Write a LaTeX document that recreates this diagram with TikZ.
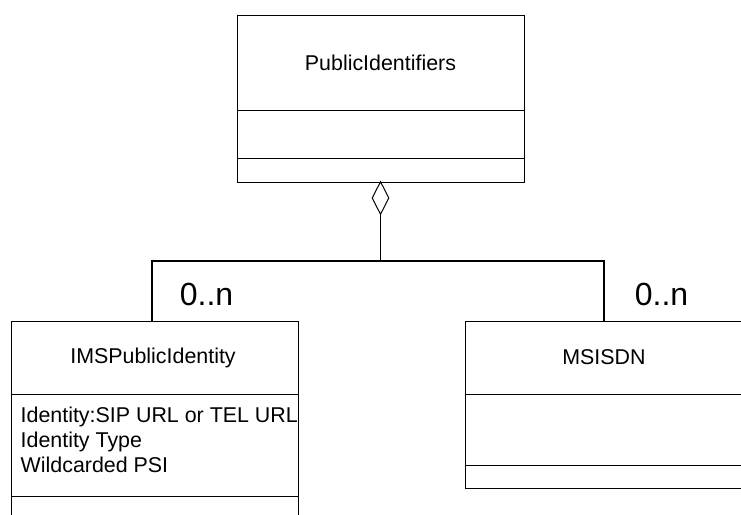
\documentclass[tikz,border=0pt]{standalone}
\usepackage{fontspec}
\setmainfont{Liberation Sans}
\usetikzlibrary{shapes.geometric}
\begin{document}
\begin{tikzpicture}[x=1pt,y=-1pt,
  box/.style={draw=black,line width=1pt,inner sep=0pt,anchor=north west},
  divider/.style={line width=1pt},
  clsname/.style={font=\fontsize{21.4}{24}\selectfont,inner sep=0pt},
  attr/.style={font=\fontsize{21.4}{24}\selectfont,anchor=base west,inner sep=0pt},
  mult/.style={font=\fontsize{32}{36}\selectfont,inner sep=0pt},
  link/.style={line width=1.3pt},
  bus/.style={line width=2.2pt,line cap=rect},
  agg/.style={draw,diamond,minimum width=17pt,minimum height=33pt,inner sep=0pt,line width=1pt,fill=white}]
\useasboundingbox (0,0) rectangle (741,514);
% PublicIdentifiers class
\node[box,minimum width=287pt,minimum height=167pt] (pi) at (237,15) {};
\draw[divider] (pi.west |- 0,110) -- (pi.east |- 0,110);
\draw[divider] (pi.west |- 0,158) -- (pi.east |- 0,158);
\node[clsname] (piname) at (380.5,63) {PublicIdentifiers};
% IMSPublicIdentity class
\node[box,minimum width=287pt,minimum height=215pt] (ims) at (11,321) {};
\draw[divider] (ims.west |- 0,394) -- (ims.east |- 0,394);
\draw[divider] (ims.west |- 0,496) -- (ims.east |- 0,496);
\node[clsname] (imsname) at (153,357.5) {IMSPublicIdentity};
\node[attr] (a1) at (20.5,422) {Identity:SIP URL or TEL URL};
\node[attr] (a2) at (20.5,447) {Identity Type};
\node[attr] (a3) at (20.5,472) {Wildcarded PSI};
% MSISDN class
\node[box,minimum width=280pt,minimum height=167pt] (ms) at (465,321) {};
\draw[divider] (ms.west |- 0,394) -- (ms.east |- 0,394);
\draw[divider] (ms.west |- 0,465) -- (ms.east |- 0,465);
\node[clsname] (msname) at (604,357.5) {MSISDN};
% aggregation
\node[agg] (dia) at (380.5,198) {};
\coordinate (j) at (380.5,261);
\coordinate (jl) at (152,261);
\coordinate (jr) at (604,261);
\draw[link] (dia.south) -- (j);
\draw[bus] (jl) -- (jr);
\draw[link] (jl) -- (ims.north -| jl);
\draw[link] (jr) -- (ms.north -| jr);
\node[mult] (m1) at (206.5,294) {0..n};
\node[mult] (m2) at (661.5,294) {0..n};
\end{tikzpicture}
\end{document}
